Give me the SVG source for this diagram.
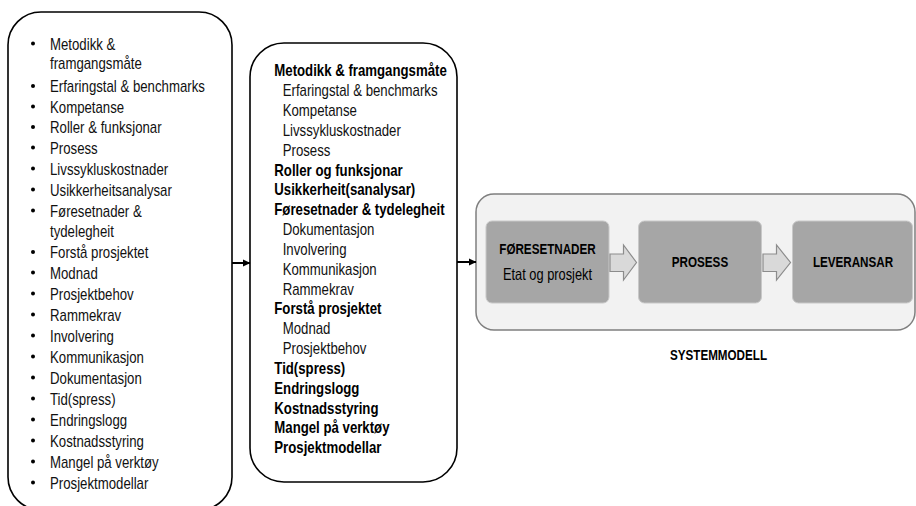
<svg xmlns="http://www.w3.org/2000/svg" width="916" height="506" viewBox="0 0 916 506">
<style>
.t{font-family:"Liberation Sans",Arial,sans-serif;font-size:17px;fill:#111}
.b{font-weight:bold;fill:#000}
.s{font-family:"Liberation Sans",Arial,sans-serif;font-size:15px;fill:#000}
.box{fill:#fff;stroke:#000;stroke-width:1.6}
.inner{fill:#a6a6a6;stroke:#c8c8c8;stroke-width:1}
.blk{fill:#d9d9d9;stroke:#8c8c8c;stroke-width:1.2}
.con{stroke:#000;stroke-width:2;fill:none}
.dot{fill:#000}
</style>
<defs>
<marker id="ah" markerWidth="8" markerHeight="8" refX="7" refY="4" orient="auto" markerUnits="userSpaceOnUse">
<path d="M0,0.5 L7.5,4 L0,7.5 Z" fill="#000"/>
</marker>
</defs>

<g id="left-box">
<rect class="box" x="8" y="12" width="224" height="498" rx="33" ry="33"/>
<g class="dot">
<circle cx="33" cy="43.5" r="2"/>
<circle cx="33" cy="86" r="2"/>
<circle cx="33" cy="106.5" r="2"/>
<circle cx="33" cy="127" r="2"/>
<circle cx="33" cy="147.5" r="2"/>
<circle cx="33" cy="168.5" r="2"/>
<circle cx="33" cy="189.5" r="2"/>
<circle cx="33" cy="210.5" r="2"/>
<circle cx="33" cy="252" r="2"/>
<circle cx="33" cy="272.5" r="2"/>
<circle cx="33" cy="293.5" r="2"/>
<circle cx="33" cy="314.5" r="2"/>
<circle cx="33" cy="335.5" r="2"/>
<circle cx="33" cy="356.5" r="2"/>
<circle cx="33" cy="377.5" r="2"/>
<circle cx="33" cy="398.5" r="2"/>
<circle cx="33" cy="419.5" r="2"/>
<circle cx="33" cy="440.5" r="2"/>
<circle cx="33" cy="461.5" r="2"/>
<circle cx="33" cy="482.5" r="2"/>
</g>
<g transform="translate(50,0) scale(0.777,1)">
<text class="t" x="0" y="50">Metodikk &amp;</text>
<text class="t" x="0" y="69.5">framgangsmåte</text>
<text class="t" x="0" y="92.5">Erfaringstal &amp; benchmarks</text>
<text class="t" x="0" y="113">Kompetanse</text>
<text class="t" x="0" y="133.5">Roller &amp; funksjonar</text>
<text class="t" x="0" y="154">Prosess</text>
<text class="t" x="0" y="175">Livssykluskostnader</text>
<text class="t" x="0" y="196">Usikkerheitsanalysar</text>
<text class="t" x="0" y="217">Føresetnader &amp;</text>
<text class="t" x="0" y="237.5">tydelegheit</text>
<text class="t" x="0" y="258.5">Forstå prosjektet</text>
<text class="t" x="0" y="279">Modnad</text>
<text class="t" x="0" y="300">Prosjektbehov</text>
<text class="t" x="0" y="321">Rammekrav</text>
<text class="t" x="0" y="342">Involvering</text>
<text class="t" x="0" y="363">Kommunikasjon</text>
<text class="t" x="0" y="384">Dokumentasjon</text>
<text class="t" x="0" y="405">Tid(spress)</text>
<text class="t" x="0" y="426">Endringslogg</text>
<text class="t" x="0" y="447">Kostnadsstyring</text>
<text class="t" x="0" y="468">Mangel på verktøy</text>
<text class="t" x="0" y="489">Prosjektmodellar</text>
</g>
</g>

<g id="middle-box">
<rect class="box" x="250" y="43" width="207" height="439" rx="34" ry="34"/>
<g transform="translate(274.3,0) scale(0.777,1)">
<text class="t b" x="0" y="76.5">Metodikk &amp; framgangsmåte</text>
<text class="t b" x="0" y="175.7">Roller og funksjonar</text>
<text class="t b" x="0" y="195.5">Usikkerheit(sanalysar)</text>
<text class="t b" x="0" y="215.3">Føresetnader &amp; tydelegheit</text>
<text class="t b" x="0" y="314.5">Forstå prosjektet</text>
<text class="t b" x="0" y="374">Tid(spress)</text>
<text class="t b" x="0" y="393.8">Endringslogg</text>
<text class="t b" x="0" y="413.7">Kostnadsstyring</text>
<text class="t b" x="0" y="433.5">Mangel på verktøy</text>
<text class="t b" x="0" y="453.3">Prosjektmodellar</text>
</g>
<g transform="translate(282.7,0) scale(0.777,1)">
<text class="t" x="0" y="96.3">Erfaringstal &amp; benchmarks</text>
<text class="t" x="0" y="116.2">Kompetanse</text>
<text class="t" x="0" y="136">Livssykluskostnader</text>
<text class="t" x="0" y="155.8">Prosess</text>
<text class="t" x="0" y="235.2">Dokumentasjon</text>
<text class="t" x="0" y="255">Involvering</text>
<text class="t" x="0" y="274.8">Kommunikasjon</text>
<text class="t" x="0" y="294.7">Rammekrav</text>
<text class="t" x="0" y="334.3">Modnad</text>
<text class="t" x="0" y="354.2">Prosjektbehov</text>
</g>
</g>

<g id="system-model">
<rect x="476" y="194" width="439" height="136" rx="18" ry="18" fill="#f2f2f2" stroke="#7f7f7f" stroke-width="1.5"/>
<g id="node-foresetnader">
<rect class="inner" x="486" y="221" width="123" height="82" rx="6" ry="6"/>
<g transform="translate(547.5,0) scale(0.777,1)">
<text class="s b" x="0" y="254" text-anchor="middle">FØRESETNADER</text>
<text class="s" x="0" y="280" text-anchor="middle" style="font-size:16.5px">Etat og prosjekt</text>
</g>
</g>
<g id="node-prosess">
<rect class="inner" x="638.5" y="221" width="123" height="82" rx="6" ry="6"/>
<g transform="translate(700,0) scale(0.777,1)">
<text class="s b" x="0" y="267" text-anchor="middle">PROSESS</text>
</g>
</g>
<g id="node-leveransar">
<rect class="inner" x="792.5" y="221" width="120" height="82" rx="6" ry="6"/>
<g transform="translate(853,0) scale(0.777,1)">
<text class="s b" x="0" y="267" text-anchor="middle">LEVERANSAR</text>
</g>
</g>
<polygon class="blk" points="610,254 623.5,254 623.5,245 636.5,262.5 623.5,280 623.5,271.5 610,271.5"/>
<polygon class="blk" points="763,254 776.5,254 776.5,245 790.5,262.5 776.5,280 776.5,271.5 763,271.5"/>
</g>

<g id="label-systemmodell" transform="translate(718.5,0) scale(0.777,1)">
<text class="s b" x="0" y="360" text-anchor="middle">SYSTEMMODELL</text>
</g>

<g id="connectors">
<line class="con" x1="232" y1="263" x2="250" y2="263" marker-end="url(#ah)"/>
<line class="con" x1="457" y1="262" x2="476" y2="262" marker-end="url(#ah)"/>
</g>
</svg>
